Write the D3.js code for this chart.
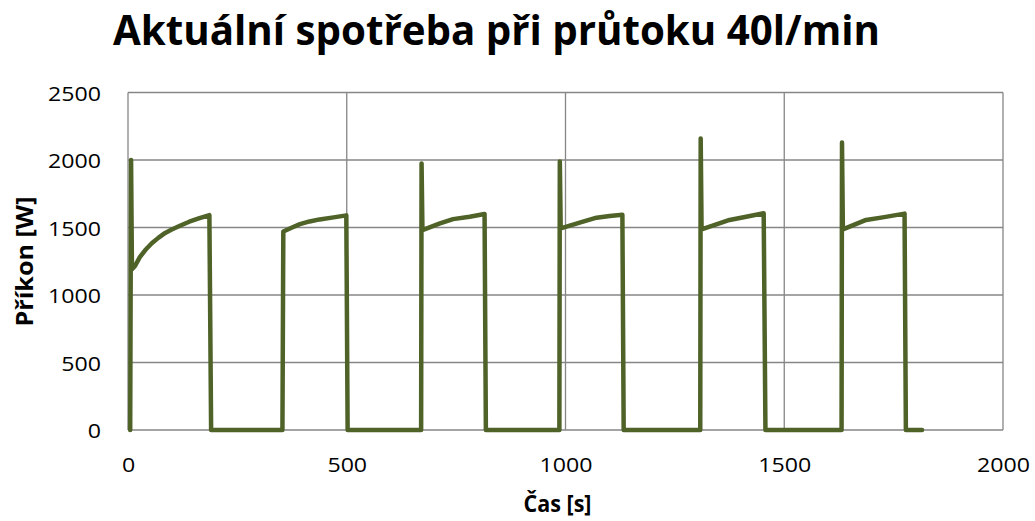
<!DOCTYPE html>
<html>
<head>
<meta charset="utf-8">
<script src="https://cdn.jsdelivr.net/npm/d3@7"></script>
<style>
  html, body { margin: 0; padding: 0; background: #fff; }
  svg { display: block; }
  text { font-family: "Open Sans", "Noto Sans", sans-serif; fill: #000; }
</style>
</head>
<body>
<svg id="chart" width="1035" height="521"></svg>
<script>
// ---- data ----
const timeS = [
  5, 7, 9, 16, 27, 40, 55, 70, 85, 100, 120, 140, 160, 186, 190,
  353, 355, 375, 393, 415, 438, 470, 499, 502,
  670, 671, 673, 713, 743, 781, 815, 818,
  986, 987, 989, 1040, 1071, 1101, 1130, 1133,
  1308, 1309, 1311, 1375, 1413, 1453, 1457,
  1631, 1632, 1634, 1687, 1725, 1775, 1778, 1815
];
const powerW = [
  0, 2000, 1190, 1215, 1280, 1335, 1385, 1425, 1460, 1485, 1515, 1543, 1565, 1592, 0,
  0, 1470, 1500, 1525, 1545, 1560, 1575, 1590, 0,
  0, 1975, 1480, 1530, 1562, 1580, 1600, 0,
  0, 1988, 1494, 1543, 1573, 1585, 1595, 0,
  0, 2160, 1486, 1556, 1580, 1605, 0,
  0, 2130, 1486, 1556, 1575, 1603, 0, 0
];
const xTicks = [0, 500, 1000, 1500, 2000];
const yTicks = [0, 500, 1000, 1500, 2000, 2500];
const titleText = "Aktuální spotřeba při průtoku 40l/min";
const xTitle = "Čas [s]";
const yTitle = "Příkon [W]";

// ---- layout ----
const plot = { left: 128, right: 1003, top: 92.5, bottom: 430 };
const svg = d3.select("#chart");

const x = d3.scaleLinear().domain([0, 2000]).range([plot.left, plot.right]);
const y = d3.scaleLinear().domain([0, 2500]).range([plot.bottom, plot.top]);
const fmt = d3.format("d");

const gridColor = "#868686";

// gridlines
const g = svg.append("g");
g.selectAll("line.h").data(yTicks).enter().append("line")
  .attr("x1", plot.left).attr("x2", plot.right)
  .attr("y1", d => y(d)).attr("y2", d => y(d))
  .attr("stroke", gridColor).attr("stroke-width", 1.3);
g.selectAll("line.v").data(xTicks).enter().append("line")
  .attr("y1", plot.top).attr("y2", plot.bottom)
  .attr("x1", d => x(d)).attr("x2", d => x(d))
  .attr("stroke", gridColor).attr("stroke-width", 1.3);

// axes labels via d3 axes (tick lines hidden)
const xAxis = svg.append("g")
  .attr("transform", `translate(0,${plot.bottom})`)
  .call(d3.axisBottom(x).tickValues(xTicks).tickFormat(fmt).tickSize(0).tickPadding(0));
xAxis.select(".domain").remove();
xAxis.selectAll("text")
  .attr("font-size", 20.5)
  .attr("font-family", "Open Sans")
  .attr("fill", "#000")
  .attr("dy", null)
  .attr("y", 0)
  .attr("text-anchor", "middle")
  .attr("transform", "translate(0,41.5) scale(1.13,1)");

const yAxis = svg.append("g")
  .attr("transform", `translate(${plot.left},0)`)
  .call(d3.axisLeft(y).tickValues(yTicks).tickFormat(fmt).tickSize(0).tickPadding(0));
yAxis.select(".domain").remove();
yAxis.selectAll("text")
  .attr("font-size", 20.5)
  .attr("font-family", "Open Sans")
  .attr("fill", "#000")
  .attr("dy", null)
  .attr("x", 0)
  .attr("y", 0)
  .attr("text-anchor", "end")
  .attr("transform", "translate(-27,7.5) scale(1.13,1)");

// line
const pts = timeS.map((t, i) => [t, powerW[i]]);
svg.append("path")
  .datum(pts)
  .attr("fill", "none")
  .attr("stroke", "#4f6228")
  .attr("stroke-width", 4.5)
  .attr("stroke-linejoin", "round")
  .attr("stroke-linecap", "round")
  .attr("d", d3.line().x(d => x(d[0])).y(d => y(d[1])));

// title
svg.append("text")
  .attr("x", 496.5).attr("y", 45)
  .attr("text-anchor", "middle")
  .attr("font-size", 41)
  .attr("font-weight", "bold")
  .attr("textLength", 767)
  .attr("lengthAdjust", "spacingAndGlyphs")
  .text(titleText);

// x title
svg.append("text")
  .attr("x", 557.5).attr("y", 511.5)
  .attr("text-anchor", "middle")
  .attr("font-size", 23.5)
  .attr("font-weight", "bold")
  .attr("textLength", 68)
  .attr("lengthAdjust", "spacingAndGlyphs")
  .text(xTitle);

// y title
svg.append("text")
  .attr("transform", "translate(32.5,261.5) rotate(-90)")
  .attr("text-anchor", "middle")
  .attr("font-size", 23.5)
  .attr("font-weight", "bold")
  .attr("textLength", 130)
  .attr("lengthAdjust", "spacingAndGlyphs")
  .text(yTitle);
</script>
</body>
</html>
